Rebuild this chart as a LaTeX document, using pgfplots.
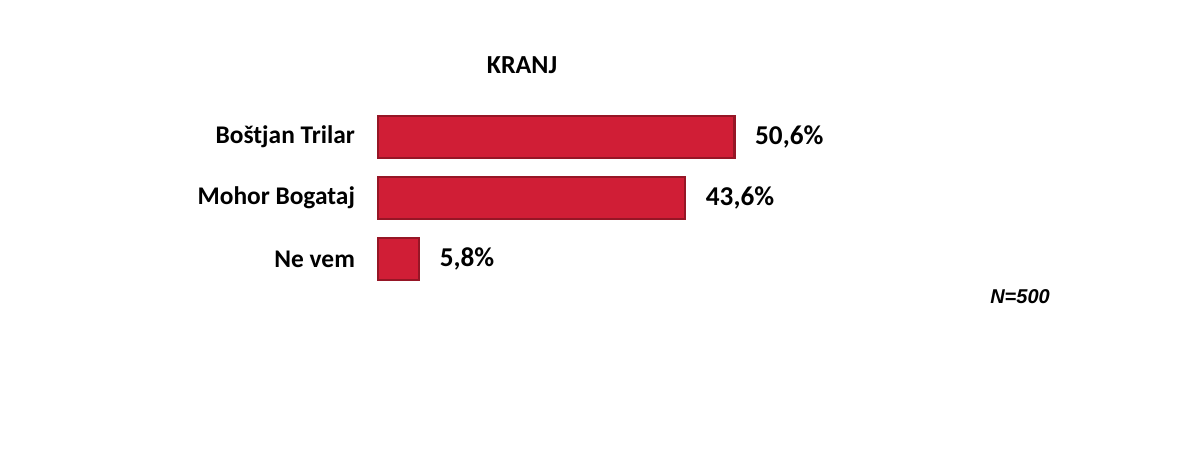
\documentclass[border=0pt]{standalone}
\usepackage{pgfplots}
\pgfplotsset{compat=1.18}
\usepackage{fontspec}
\setmainfont{Carlito}
\newfontfamily\arialfont{Liberation Sans}
\definecolor{barred}{RGB}{208,30,54}
\definecolor{baredge}{RGB}{150,22,38}
\begin{document}
\begin{tikzpicture}
  % page frame, 1181 x 456 px at 0.5pt per px
  \path[fill=white] (0pt,0pt) rectangle (590.5pt,-228pt);
  \node[font=\bfseries\fontsize{13}{15}\selectfont] at (261pt,-32.5pt) {KRANJ};
  \node[font=\arialfont\bfseries\itshape\fontsize{10}{12}\selectfont] at (510pt,-148.5pt) {N=500};
  \begin{axis}[
    at={(189pt,-53.25pt)}, anchor=north west,
    scale only axis,
    width=352pt, height=91.5pt,
    xmin=0, xmax=100,
    ymin=-0.5, ymax=2.5,
    y dir=reverse,
    xbar, bar width=21pt,
    bar shift=0pt,
    axis line style={draw=none},
    xtick=\empty,
    ytick={0,1,2},
    yticklabels={Boštjan Trilar, Mohor Bogataj, Ne vem},
    major tick length=0pt,
    yticklabel style={font=\bfseries\fontsize{12.7}{14}\selectfont, xshift=-8pt},
    point meta=explicit symbolic,
    nodes near coords,
    nodes near coords style={font=\bfseries\fontsize{13.6}{15}\selectfont, anchor=west, xshift=6.5pt},
    clip=false,
  ]
    \addplot[fill=barred, draw=baredge, line width=1.3pt] coordinates {
      (50.6,0) [50,6\%]
      (43.6,1) [43,6\%]
      (5.8,2)  [5,8\%]
    };
  \end{axis}
\end{tikzpicture}
\end{document}
